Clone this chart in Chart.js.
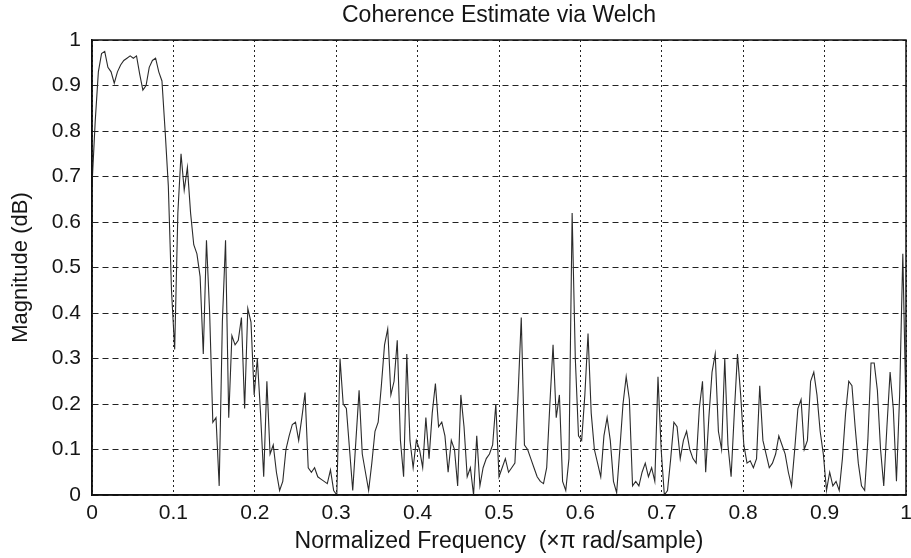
<!DOCTYPE html>
<html>
<head>
<meta charset="utf-8">
<script src="https://cdn.jsdelivr.net/npm/chart.js@4.4.1/dist/chart.umd.min.js"></script>
<style>
  html, body { margin: 0; padding: 0; background: #ffffff; overflow: hidden; }
  #c { display: block; }
</style>
</head>
<body>
<canvas id="c" width="911" height="558" style="width:911px;height:558px"></canvas>
<script>
// ---- data ----
const titleText = 'Coherence Estimate via Welch';
const xAxisTitle = 'Normalized Frequency  (\u00d7\u03c0 rad/sample)';
const yAxisTitle = 'Magnitude (dB)';
const xTickLabels = ['0', '0.1', '0.2', '0.3', '0.4', '0.5', '0.6', '0.7', '0.8', '0.9', '1'];
const yTickLabels = ['0', '0.1', '0.2', '0.3', '0.4', '0.5', '0.6', '0.7', '0.8', '0.9', '1'];

// coherence magnitude, 257 bins from 0 to 1 (x pi rad/sample)
const magnitude = [
  0.68, 0.82, 0.93, 0.97, 0.975, 0.94, 0.93, 0.905, 0.93, 0.945,
  0.955, 0.96, 0.965, 0.96, 0.965, 0.925, 0.89, 0.90, 0.94, 0.955,
  0.96, 0.93, 0.91, 0.80, 0.68, 0.45, 0.32, 0.62, 0.75, 0.67,
  0.72, 0.62, 0.55, 0.53, 0.48, 0.31, 0.56, 0.40, 0.16, 0.17,
  0.02, 0.38, 0.56, 0.17, 0.35, 0.33, 0.34, 0.39, 0.19, 0.41,
  0.38, 0.22, 0.30, 0.18, 0.04, 0.25, 0.09, 0.11, 0.05, 0.01,
  0.03, 0.10, 0.13, 0.155, 0.16, 0.12, 0.17, 0.225, 0.06, 0.05,
  0.06, 0.04, 0.035, 0.03, 0.025, 0.055, 0.01, 0.0, 0.30, 0.20,
  0.19, 0.10, 0.01, 0.12, 0.23, 0.09, 0.05, 0.01, 0.07, 0.14,
  0.16, 0.24, 0.33, 0.365, 0.22, 0.25, 0.34, 0.12, 0.04, 0.31,
  0.12, 0.06, 0.12, 0.10, 0.06, 0.17, 0.08, 0.18, 0.245, 0.15,
  0.16, 0.13, 0.05, 0.12, 0.10, 0.02, 0.22, 0.15, 0.04, 0.06,
  0.0, 0.13, 0.02, 0.06, 0.08, 0.09, 0.11, 0.20, 0.04, 0.06,
  0.08, 0.05, 0.06, 0.07, 0.22, 0.39, 0.11, 0.10, 0.08, 0.06,
  0.04, 0.03, 0.025, 0.06, 0.20, 0.33, 0.17, 0.22, 0.03, 0.01,
  0.08, 0.62, 0.30, 0.13, 0.12, 0.22, 0.355, 0.18, 0.10, 0.07,
  0.04, 0.13, 0.17, 0.12, 0.03, 0.005, 0.10, 0.20, 0.26, 0.21,
  0.02, 0.03, 0.02, 0.05, 0.07, 0.04, 0.06, 0.03, 0.26, 0.10,
  0.0, 0.01, 0.08, 0.16, 0.15, 0.08, 0.12, 0.14, 0.10, 0.08,
  0.07, 0.19, 0.25, 0.05, 0.17, 0.27, 0.31, 0.14, 0.10, 0.30,
  0.11, 0.04, 0.18, 0.31, 0.22, 0.11, 0.07, 0.075, 0.06, 0.08,
  0.24, 0.12, 0.09, 0.06, 0.07, 0.09, 0.13, 0.11, 0.09, 0.05,
  0.02, 0.10, 0.19, 0.21, 0.10, 0.12, 0.25, 0.27, 0.22, 0.14,
  0.09, 0.01, 0.05, 0.02, 0.03, 0.01, 0.08, 0.18, 0.25, 0.24,
  0.15, 0.07, 0.02, 0.01, 0.12, 0.29, 0.29, 0.23, 0.10, 0.02,
  0.15, 0.27, 0.19, 0.03, 0.22, 0.53, 0.18
];
// frequency bins (uniform grid over 0..1)
const freq = magnitude.map((_, i) => i / (magnitude.length - 1));

const FAMILY = '"Liberation Sans", Arial, sans-serif';
const TEXT = '#151515';

const boxPlugin = {
  id: 'axesBox',
  afterDraw(chart) {
    const a = chart.chartArea;
    const ctx = chart.ctx;
    ctx.save();
    ctx.strokeStyle = '#111';
    ctx.lineWidth = 1.5;
    ctx.strokeRect(a.left, a.top, a.right - a.left, a.bottom - a.top);
    ctx.restore();
  }
};

new Chart(document.getElementById('c'), {
  type: 'line',
  data: {
    datasets: [{
      data: freq.map((f, i) => ({ x: f, y: magnitude[i] })),
      borderColor: '#2b2b2b',
      borderWidth: 1.1,
      pointRadius: 0,
      tension: 0,
      fill: false
    }]
  },
  options: {
    responsive: false,
    animation: false,
    devicePixelRatio: 1,
    layout: { padding: { left: 0, right: 5, top: 0, bottom: 0 } },
    plugins: {
      legend: { display: false },
      tooltip: { enabled: false },
      title: { display: false }
    },
    scales: {
      // top axis carries only the plot title, centred over the axes like MATLAB
      xTop: {
        type: 'linear',
        position: 'top',
        min: 0, max: 1,
        afterFit(s) { s.height = 40; s.paddingLeft = 0; s.paddingRight = 0; },
        ticks: { display: false },
        grid: { display: false, drawTicks: false },
        border: { display: false },
        title: {
          display: true,
          text: titleText,
          color: TEXT,
          font: { family: FAMILY, size: 23 },
          padding: { top: 2, bottom: 0 }
        }
      },
      x: {
        type: 'linear',
        position: 'bottom',
        min: 0, max: 1,
        afterFit(s) { s.height = 63; s.paddingLeft = 0; s.paddingRight = 0; },
        afterBuildTicks(s) { s.ticks = xTickLabels.map(t => ({ value: parseFloat(t) })); },
        ticks: {
          color: TEXT,
          padding: 6,
          maxRotation: 0,
          autoSkip: false,
          font: { family: FAMILY, size: 21 },
          callback: (v, i) => xTickLabels[i]
        },
        grid: { color: '#222', lineWidth: 1, drawTicks: false },
        border: { display: true, color: '#111', width: 1.5, dash: [2, 3] },
        title: {
          display: true,
          text: xAxisTitle,
          color: TEXT,
          font: { family: FAMILY, size: 23 },
          padding: { top: 0, bottom: 3 }
        }
      },
      y: {
        type: 'linear',
        min: 0, max: 1,
        afterFit(s) { s.width = 92; },
        afterBuildTicks(s) { s.ticks = yTickLabels.map(t => ({ value: parseFloat(t) })); },
        ticks: {
          color: TEXT,
          padding: 11,
          autoSkip: false,
          font: { family: FAMILY, size: 21 },
          callback: (v, i) => yTickLabels[i]
        },
        grid: { color: '#222', lineWidth: 1, drawTicks: false },
        border: { display: true, color: '#111', width: 1.5, dash: [6, 4] },
        title: {
          display: true,
          text: yAxisTitle,
          color: TEXT,
          font: { family: FAMILY, size: 22 },
          padding: { top: 8, bottom: 0 }
        }
      }
    }
  },
  plugins: [boxPlugin]
});
</script>
</body>
</html>
